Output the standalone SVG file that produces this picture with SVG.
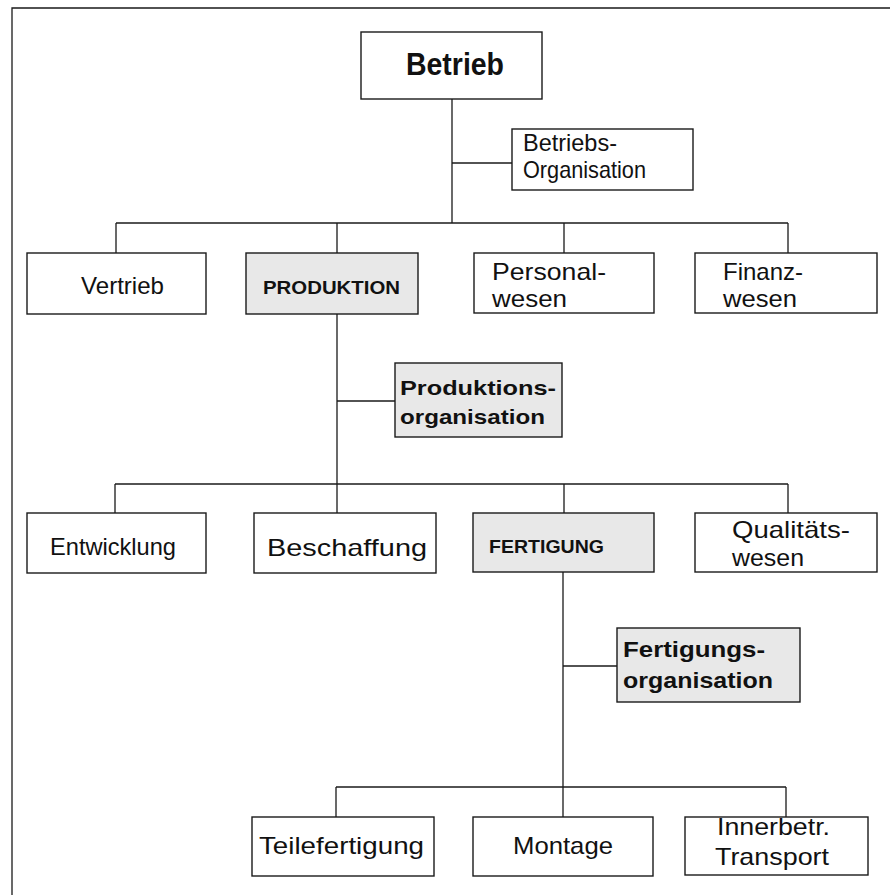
<svg xmlns="http://www.w3.org/2000/svg" width="890" height="895" viewBox="0 0 890 895">
  <style>
    .box { fill: #ffffff; stroke: #1a1a1a; stroke-width: 1.4; }
    .shade { fill: #e8e8e8; stroke: #1a1a1a; stroke-width: 1.4; }
    .wire { fill: none; stroke: #1a1a1a; stroke-width: 1.3; }
    text { font-family: "Liberation Sans", Arial, sans-serif; fill: #111111; }
    .reg { font-size: 24px; }
    .bold { font-weight: bold; }
  </style>

  <!-- page frame (left and top edges) -->
  <path class="wire" d="M12 895 V8 H890"/>

  <!-- connectors -->
  <g id="connectors">
    <path class="wire" d="M452 99 V223"/>
    <path class="wire" d="M452 163 H512"/>
    <path class="wire" d="M116 223 H788"/>
    <path class="wire" d="M116 223 V253 M337 223 V253 M564 223 V253 M788 223 V253"/>
    <path class="wire" d="M337 314 V484"/>
    <path class="wire" d="M337 401 H395"/>
    <path class="wire" d="M115 484 H788"/>
    <path class="wire" d="M115 484 V513 M337 484 V513 M564 484 V513 M788 484 V513"/>
    <path class="wire" d="M563 572 V817"/>
    <path class="wire" d="M563 666 H617"/>
    <path class="wire" d="M336 787 H786"/>
    <path class="wire" d="M336 787 V817 M786 787 V817"/>
  </g>

  <g id="betrieb">
    <rect class="box" x="361" y="32" width="181" height="67"/>
    <text class="bold" x="406" y="75" font-size="31" textLength="98" lengthAdjust="spacingAndGlyphs">Betrieb</text>
  </g>

  <g id="betriebs-organisation">
    <rect class="box" x="512" y="129" width="181" height="61"/>
    <text class="reg" x="523" y="151" textLength="94" lengthAdjust="spacingAndGlyphs">Betriebs-</text>
    <text class="reg" x="523" y="178" textLength="123" lengthAdjust="spacingAndGlyphs">Organisation</text>
  </g>

  <g id="vertrieb">
    <rect class="box" x="27" y="253" width="179" height="61"/>
    <text class="reg" x="81" y="294" textLength="83" lengthAdjust="spacingAndGlyphs">Vertrieb</text>
  </g>

  <g id="produktion">
    <rect class="shade" x="246" y="253" width="172" height="61"/>
    <text class="bold" x="263" y="294" font-size="19" textLength="137" lengthAdjust="spacingAndGlyphs">PRODUKTION</text>
  </g>

  <g id="personalwesen">
    <rect class="box" x="474" y="253" width="180" height="60"/>
    <text class="reg" x="492" y="280" textLength="114" lengthAdjust="spacingAndGlyphs">Personal-</text>
    <text class="reg" x="492" y="307" textLength="75" lengthAdjust="spacingAndGlyphs">wesen</text>
  </g>

  <g id="finanzwesen">
    <rect class="box" x="695" y="253" width="182" height="60"/>
    <text class="reg" x="723" y="280" textLength="80" lengthAdjust="spacingAndGlyphs">Finanz-</text>
    <text class="reg" x="723" y="307" textLength="74" lengthAdjust="spacingAndGlyphs">wesen</text>
  </g>

  <g id="produktionsorganisation">
    <rect class="shade" x="395" y="363" width="167" height="74"/>
    <text class="bold" x="400" y="395" font-size="21" textLength="156" lengthAdjust="spacingAndGlyphs">Produktions-</text>
    <text class="bold" x="400" y="424" font-size="21" textLength="145" lengthAdjust="spacingAndGlyphs">organisation</text>
  </g>

  <g id="entwicklung">
    <rect class="box" x="27" y="513" width="179" height="60"/>
    <text class="reg" x="50" y="555" textLength="126" lengthAdjust="spacingAndGlyphs">Entwicklung</text>
  </g>

  <g id="beschaffung">
    <rect class="box" x="254" y="513" width="182" height="60"/>
    <text class="reg" x="267" y="556" font-size="28" textLength="160" lengthAdjust="spacingAndGlyphs">Beschaffung</text>
  </g>

  <g id="fertigung">
    <rect class="shade" x="473" y="513" width="181" height="59"/>
    <text class="bold" x="489" y="553" font-size="19" textLength="115" lengthAdjust="spacingAndGlyphs">FERTIGUNG</text>
  </g>

  <g id="qualitaetswesen">
    <rect class="box" x="695" y="513" width="182" height="59"/>
    <text class="reg" x="732" y="538" textLength="118" lengthAdjust="spacingAndGlyphs">Qualitäts-</text>
    <text class="reg" x="732" y="566" textLength="72" lengthAdjust="spacingAndGlyphs">wesen</text>
  </g>

  <g id="fertigungsorganisation">
    <rect class="shade" x="617" y="628" width="183" height="74"/>
    <text class="bold" x="623" y="657" font-size="22" textLength="142" lengthAdjust="spacingAndGlyphs">Fertigungs-</text>
    <text class="bold" x="623" y="688" font-size="22" textLength="150" lengthAdjust="spacingAndGlyphs">organisation</text>
  </g>

  <g id="teilefertigung">
    <rect class="box" x="252" y="817" width="182" height="59"/>
    <text class="reg" x="259" y="854" font-size="25" textLength="165" lengthAdjust="spacingAndGlyphs">Teilefertigung</text>
  </g>

  <g id="montage">
    <rect class="box" x="473" y="817" width="180" height="59"/>
    <text class="reg" x="513" y="854" font-size="25" textLength="100" lengthAdjust="spacingAndGlyphs">Montage</text>
  </g>

  <g id="innerbetr-transport">
    <rect class="box" x="685" y="817" width="183" height="58"/>
    <text class="reg" x="717" y="835" font-size="25" textLength="113" lengthAdjust="spacingAndGlyphs">Innerbetr.</text>
    <text class="reg" x="715" y="865" font-size="25" textLength="114" lengthAdjust="spacingAndGlyphs">Transport</text>
  </g>
</svg>
